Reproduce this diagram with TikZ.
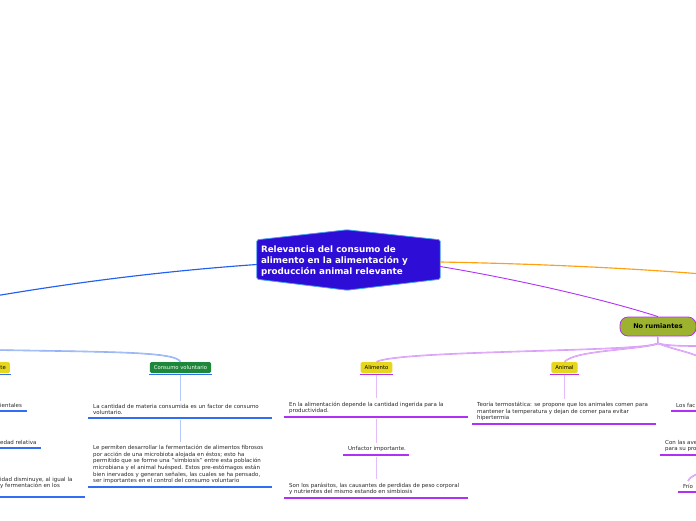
\documentclass[tikz,border=0pt]{standalone}
\usepackage{fontspec}
\setmainfont{DejaVu Sans}
\usetikzlibrary{calc}
\definecolor{hexblue}{RGB}{46,14,214}
\definecolor{hexedge}{RGB}{70,160,235}
\definecolor{mblue}{RGB}{34,96,240}
\definecolor{ublue}{RGB}{50,110,245}
\definecolor{lblue}{RGB}{140,172,245}
\definecolor{morange}{RGB}{255,160,16}
\definecolor{mpurple}{RGB}{178,48,245}
\definecolor{lpurple}{RGB}{215,150,248}
\definecolor{myellow}{RGB}{230,214,30}
\definecolor{mgreen}{RGB}{30,136,58}
\definecolor{molive}{RGB}{157,178,47}
\definecolor{txt}{RGB}{40,40,40}
\begin{document}
\begin{tikzpicture}[x=1pt,y=-1pt,
  hex/.style={fill=hexblue, draw=hexedge, line width=0.8pt, rounded corners=1.5pt},
  topic/.style={anchor=south west, align=left, inner xsep=5pt, inner ysep=3pt,
    font=\fontsize{5.5}{6.6}\selectfont, text=txt},
  ulb/.style={append after command={(\tikzlastnode.south west) edge[draw=ublue, line width=1.2pt] ($(\tikzlastnode.south west)+(#1,0)$)}},
  ulp/.style={append after command={(\tikzlastnode.south west) edge[draw=mpurple, line width=1.2pt] ($(\tikzlastnode.south west)+(#1,0)$)}},
  ulb/.default=184, ulp/.default=184,
  tagul/.style={append after command={([shift={(-0.8,1)}]\tikzlastnode.south west) edge[draw=#1, line width=1.2pt] ([shift={(0.8,1)}]\tikzlastnode.south east)}},
  tag/.style={rounded corners=1.5pt, minimum height=11pt, inner xsep=4pt, inner ysep=0pt,
    font=\fontsize{5.3}{6}\selectfont},
  conp/.style={draw=lpurple, line width=0.55pt, double=lpurple!65, double distance=0.5pt},
  conb/.style={draw=lblue, line width=0.55pt, double=lblue!65, double distance=0.5pt}
]
\useasboundingbox (0,0) rectangle (696,520);
\clip (0,0) rectangle (696,520);

% off-canvas ends
\coordinate (Lout) at (-5,296);
\coordinate (Rout) at (702,274);
\coordinate (Lcv) at (-5,350);
\coordinate (R1) at (702,346);
\coordinate (R2) at (702,358);
\coordinate (R3) at (702,472);

% central node
\node[inner sep=0pt, minimum width=183pt, minimum height=39pt] (c) at (348.5,259.5) {};
\draw[hex] (c.north west) -- ($(c.north)+(-1.5,-10)$) -- (c.north east) -- (c.south east)
  -- ($(c.south)+(-1.5,11)$) -- (c.south west) -- cycle;
\node[anchor=west, align=left, text=white, font=\bfseries\fontsize{8.8}{11}\selectfont, inner sep=0pt]
  (ct) at ($(c.west)+(4,1.5)$) {Relevancia del consumo de\\alimento en la alimentación y\\producción animal relevante};

% main connectors
\draw[mblue, line width=1.15pt] ($(c.west)+(0,5)$) .. controls (150,272) and (60,285) .. (Lout);
\draw[morange, line width=1.15pt] ($(c.east)+(0,2.5)$) .. controls (550,264) and (640,269) .. (Rout);

% No rumiantes
\node[fill=molive, draw=mpurple, line width=0.8pt, rounded corners=8pt, minimum width=76pt,
  minimum height=19pt, inner sep=0pt, font=\bfseries\fontsize{6.5}{7}\selectfont] (nr) at (658,326.5) {No rumiantes};
\draw[mpurple, line width=0.9pt] ($(c.east)+(0,7)$) .. controls (510,278) and (600,298) .. (nr.north);

% tags
\node[tag, fill=myellow, tagul=mpurple] (al) at (376.5,367.5) {Alimento};
\node[tag, fill=myellow, tagul=mpurple] (an) at (564.5,367.5) {Animal};
\node[tag, fill=mgreen, text=white, tagul=ublue] (cv) at (180.5,367.5) {Consumo voluntario};
\node[tag, fill=myellow, anchor=east, text width=24pt, align=right, tagul=ublue] (lt) at (10,367.5) {te};

% branch connectors from No rumiantes
\coordinate (nrj) at ($(nr.south)+(0,7)$);
\draw[conp] (nr.south) -- (nrj);
\draw[conp] (nrj) .. controls (645,352) and (400,350) .. (al.north);
\draw[conp] (nrj) .. controls (640,350) and (575,350) .. (an.north);
\draw[conp] (nrj) .. controls (668,346) and (685,346) .. (R1);
\draw[conp] (nrj) .. controls (672,349) and (690,352) .. (R2);
\draw[conb] (Lcv) .. controls (120,352) and (175,352) .. (cv.north);

% Consumo voluntario topics
\node[topic, ulb] (cv1) at (88,418) {La cantidad de materia consumida es un factor de consumo\\voluntario.};
\node[topic, ulb] (cv2) at (88,487) {Le permiten desarrollar la fermentación de alimentos fibrosos\\por acción de una microbiota alojada en éstos; esto ha\\permitido que se forme una "simbiosis" entre esta población\\microbiana y el animal huésped. Estos pre-estómagos están\\bien inervados y generan señales, las cuales se ha pensado,\\ser importantes en el control del consumo voluntario};
\draw[conb] ([yshift=-2pt]cv.south) -- (cv.south |- cv1.north);
\draw[conb] ([yshift=-2pt]cv1.south -| cv.south) -- (cv.south |- cv2.north);

% Alimento topics
\node[topic, ulp] (a1) at (284,417) {En la alimentación depende la cantidad ingerida para la\\productividad.};
\node[topic, ulp=66] (a2) at (343,455) {Unfactor importante.};
\node[topic, ulp] (a3) at (284,498) {Son los parásitos, las causantes de perdidas de peso corporal\\y nutrientes del mismo estando en simbiosis};
\draw[conp] ([yshift=-2pt]al.south) -- (al.south |- a1.north);
\draw[conp] ([yshift=-2pt]a1.south -| al.south) -- (al.south |- a2.north);
\draw[conp] ([yshift=-2pt]a2.south -| al.south) -- (al.south |- a3.north);

% Animal topic
\node[topic, ulp] (n1) at (472,424) {Teoría termostática: se propone que los animales comen para\\mantener la temperatura y dejan de comer para evitar\\hipertermia};
\draw[conp] ([yshift=-2pt]an.south) -- (an.south |- n1.north);

% left partial topics
\node[topic, ulb=32] (l1) at (-5,411) {ientales};
\node[topic, ulb=46] (l2) at (-5,448) {edad relativa};
\node[topic] (l3) at (-5,492) {idad disminuye, al igual la\\y fermentación en los};
\draw[ublue, line width=1.2pt] ([yshift=-5pt]l3.south west) -- ++(90,0);

% right partial topics
\node[topic, ulp] (r1) at (671,411) {Los fac};
\node[topic, ulp] (r2) at (660,455) {Con las ave\\para su pro};
\node[topic, minimum width=19pt, anchor=south, ulp=19] (r3) at (688,492) {Frío};
\draw[conp] (r3.north) .. controls +(0,-3) and +(-4,1) .. (R3);
\end{tikzpicture}
\end{document}
